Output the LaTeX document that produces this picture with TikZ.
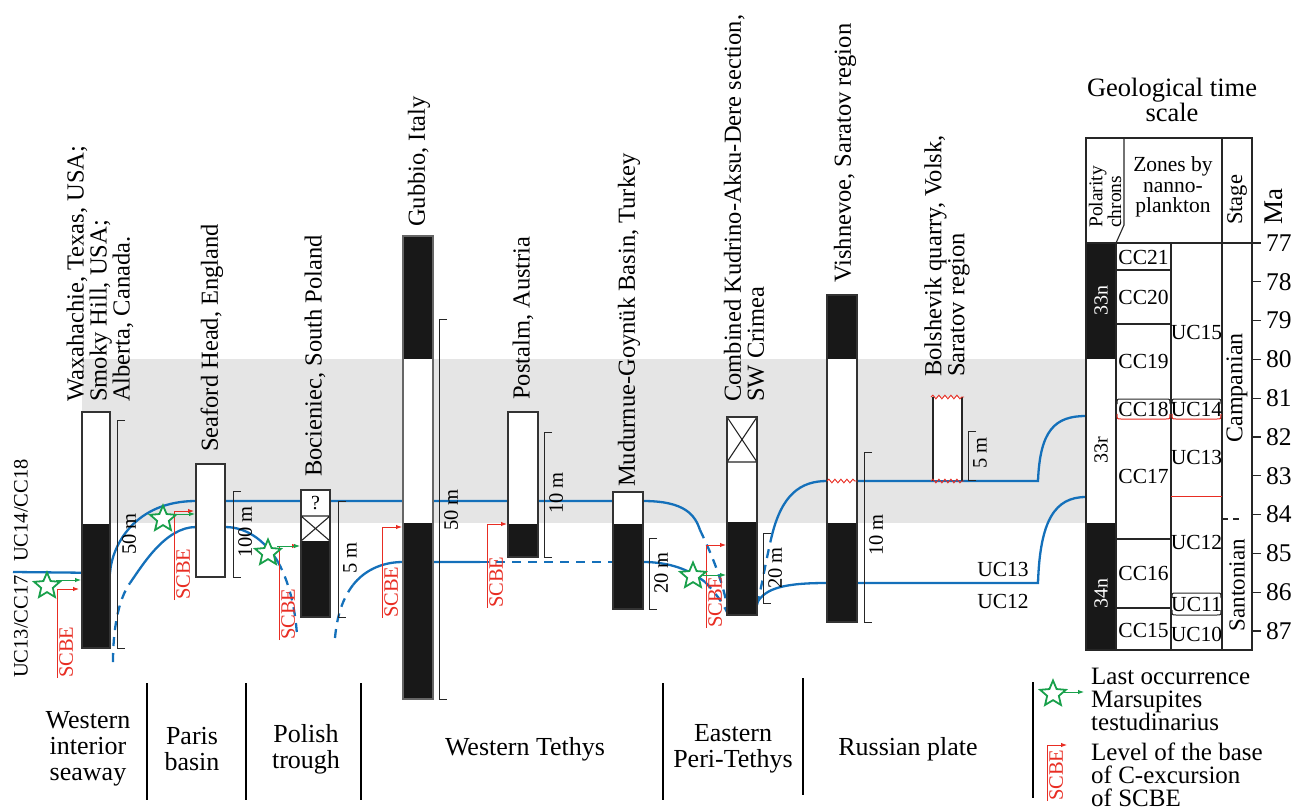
\documentclass[tikz,border=0pt]{standalone}
\usepackage{fontspec}
\setmainfont{Liberation Serif}
\usetikzlibrary{shapes.geometric,arrows.meta,decorations.pathmorphing}
\definecolor{cblue}{RGB}{20,112,186}
\definecolor{cred}{RGB}{232,45,35}
\definecolor{cgreen}{RGB}{25,160,75}
\definecolor{cgray}{RGB}{229,229,229}
\definecolor{cblk}{RGB}{24,24,24}
\newcommand{\fsz}[2]{\fontsize{#1}{#2}\selectfont}
% scale bar: name, x, ytop, ybot, label, ylabel
\newcommand{\sbar}[6]{%
  \draw[bar] (#2+8,#3) -- (#2,#3) -- (#2,#4) -- (#2+8,#4);
  \node[rotate=90,anchor=north,inner sep=0pt,font=\fsz{20.5}{20}] (#1) at (#2+5,#6) {#5};}
% SCBE marker: name, x, ytop, ybot, xend
\newcommand{\scbe}[5]{%
  \draw[rarr] (#2,#4) -- (#2,#3) -- (#5,#3);
  \node[rotate=90,anchor=north west,inner sep=0pt,text=cred,font=\fsz{20.5}{20}] (#1) at (#2+2,#4) {SCBE};}
\newcommand{\bracedn}[4]{\draw[#4,line width=1pt] (#1+1,#3+5) .. controls (#1+1,#3) .. (#1+5,#3) -- (#2-5,#3) .. controls (#2-1,#3) .. (#2-1,#3+5);}
\newcommand{\braceup}[4]{\draw[#4,line width=1pt] (#1+1,#3-5) .. controls (#1+1,#3) .. (#1+5,#3) -- (#2-5,#3) .. controls (#2-1,#3) .. (#2-1,#3-5);}
\begin{document}
\begin{tikzpicture}[x=1pt,y=-1pt,
  tsl/.style={draw=black!85,line width=1.1pt},
  corr/.style={draw=cblue,line width=2.3pt},
  corrd/.style={corr,dash pattern=on 9pt off 7pt},
  bar/.style={draw=black!85,line width=1pt},
  box/.style={draw=black!80,line width=1.2pt,inner sep=0pt,outer sep=0pt,anchor=north west},
  toplab/.style={rotate=90,anchor=west,inner sep=0pt,font=\fsz{24.5}{23}},
  botlab/.style={align=center,inner sep=0pt,font=\fsz{26}{26}},
  cell/.style={inner sep=0pt,font=\fsz{21.5}{21}},
  mstar/.style={star,star points=5,star point ratio=2.2,draw=cgreen,fill=white,line width=1.8pt,minimum size=27pt,inner sep=0pt},
  garr/.style={draw=cgreen,line width=1pt,-{Latex[length=6pt,width=4.5pt]}},
  rarr/.style={draw=cred,line width=1pt,-{Latex[length=6pt,width=4.5pt]}},
  wave/.style={draw=cred,line width=0.9pt,decorate,decoration={snake,segment length=6pt,amplitude=1.8pt}},
  sep/.style={draw=black,line width=2.6pt}
]
\useasboundingbox (0,0) rectangle (1299,811);
\fill[cgray] (82,359) rectangle (1086,523);

% ---------- correlation lines ----------
\draw[corr] (13,572) -- (110,573) .. controls (112,545) and (135,501) .. (196,501) -- (643,501) .. controls (685,501) and (695,515) .. (700,530);
\draw[corrd] (700,530) .. controls (712,555) and (722,580) .. (727,605);
\draw[corrd] (757,605) .. controls (762,585) and (766,560) .. (772,535);
\draw[corr] (772,535) .. controls (782,495) and (800,481) .. (827,481) -- (1038,481) .. controls (1040,430) and (1055,416) .. (1086,416);

\draw[corrd] (113,662) .. controls (113,630) and (118,600) .. (130,583);
\draw[corr] (130,583) .. controls (142,566) and (165,527) .. (196,527) -- (225,527) .. controls (250,527) and (268,545) .. (278,562);
\draw[corrd] (278,562) .. controls (288,580) and (295,605) .. (297,635);

\draw[corrd] (335,638) .. controls (337,615) and (343,598) .. (353,585);
\draw[corr] (353,585) .. controls (363,572) and (380,562) .. (403,562) -- (480,562);
\draw[corrd] (480,562) -- (613,562);
\draw[corr] (643,562) .. controls (670,562) and (690,570) .. (705,582);
\draw[corrd] (705,582) .. controls (715,592) and (722,602) .. (727,612);
\draw[corr] (757,603) .. controls (765,588) and (785,583) .. (827,583) -- (1038,583) .. controls (1040,520) and (1055,497) .. (1086,497);

% ---------- columns ----------
\fill[white] (82,412) rectangle (110,524);
\fill[cblk] (82,524) rectangle (110,648);
\node[box,minimum width=28pt,minimum height=236pt] (wax) at (82,412) {};

\fill[white] (196,464) rectangle (225,577);
\node[box,minimum width=29pt,minimum height=113pt] (sea) at (196,464) {};

\fill[white] (301,490) rectangle (330,541);
\fill[cblk] (301,541) rectangle (330,617);
\draw[tsl] (301,516) -- (330,516) (301,516) -- (330,541) (330,516) -- (301,541);
\node[box,minimum width=29pt,minimum height=127pt] (boc) at (301,490) {};
\node[cell,font=\fsz{20}{20}] (qm) at (315.5,503.5) {?};

\fill[cblk] (403,236) rectangle (433,359);
\fill[white] (403,359) rectangle (433,523);
\fill[cblk] (403,523) rectangle (433,699);
\node[box,draw=black!60,minimum width=30pt,minimum height=463pt] (gub) at (403,236) {};

\fill[white] (508,412) rectangle (538,524);
\fill[cblk] (508,524) rectangle (538,557);
\node[box,minimum width=30pt,minimum height=145pt] (pos) at (508,412) {};

\fill[white] (613,492) rectangle (643,524);
\fill[cblk] (613,524) rectangle (643,609);
\node[box,minimum width=30pt,minimum height=117pt] (mud) at (613,492) {};

\fill[white] (727,417) rectangle (757,522);
\fill[cblk] (727,522) rectangle (757,615);
\draw[tsl] (727,462) -- (757,462) (727,417) -- (757,462) (757,417) -- (727,462);
\node[box,minimum width=30pt,minimum height=198pt] (kud) at (727,417) {};

\fill[cblk] (827,295) rectangle (857,359);
\fill[white] (827,359) rectangle (857,523);
\fill[cblk] (827,523) rectangle (857,622);
\node[box,minimum width=30pt,minimum height=327pt] (vis) at (827,295) {};
\draw[wave] (827,481) -- (857,481);

\fill[white] (933,397) rectangle (962,480);
\draw[tsl] (933,397) -- (933,481) (962,397) -- (962,481);
\coordinate (bol) at (947.5,438);
\draw[wave] (931,397) -- (964,397);
\draw[wave] (931,481) -- (964,481);

% ---------- scale bars ----------
\sbar{s1}{117}{420}{648}{50 m}{534}
\sbar{s2}{233}{491}{577}{100 m}{532}
\sbar{s3}{338}{501}{617}{5 m}{558}
\sbar{s4}{439}{319}{699}{50 m}{510}
\sbar{s5}{544}{432}{557}{10 m}{493}
\sbar{s6}{649}{538}{609}{20 m}{573}
\sbar{s7}{763}{533}{603}{20 m}{568}
\sbar{s8}{864}{452}{622}{10 m}{535}
\sbar{s9}{968}{431}{480}{5 m}{453}

% ---------- markers ----------
\scbe{sc1}{57}{589}{678}{79}
\node[mstar] (st1) at (47,586) {};
\draw[garr] (56,580) -- (81,580);

\scbe{sc2}{174}{511}{600}{194}
\node[mstar] (st2) at (163,519) {};
\draw[garr] (172,514) -- (195,514);

\scbe{sc3}{279}{546}{640}{298}
\node[mstar] (st3) at (268,553) {};
\draw[garr] (277,546) -- (300,546);

\scbe{sc4}{382}{527}{618}{402}
\scbe{sc5}{487}{524}{608}{507}

\scbe{sc6}{706}{545}{628}{726}
\node[mstar] (st4) at (693,576) {};
\draw[garr] (703,575) -- (726,575);

% ---------- side labels ----------
\node[rotate=90,anchor=west,inner sep=0pt,font=\fsz{20.5}{20}] (uc14) at (21,562) {UC14/CC18};
\node[rotate=90,anchor=west,inner sep=0pt,font=\fsz{20.5}{20}] (uc13) at (21,678) {UC13/CC17};
\node[cell] (uc13r) at (1003,569) {UC13};
\node[cell] (uc12r) at (1003,601) {UC12};

% ---------- top labels ----------
\node[toplab,align=left] (lwax) at (100,402) {Waxahachie, Texas, USA;\\Smoky Hill, USA;\\Alberta, Canada.};
\node[toplab] (lsea) at (212,452) {Seaford Head, England};
\node[toplab] (lboc) at (315,477) {Bocieniec, South Poland};
\node[toplab] (lgub) at (419,227) {Gubbio, Italy};
\node[toplab] (lpos) at (523,400) {Postalm, Austria};
\node[toplab] (lmud) at (629,487) {Mudurnue-Goynük Basin, Turkey};
\node[toplab,align=left] (lkud) at (744,402) {Combined Kudrino-Aksu-Dere section,\\SW Crimea};
\node[toplab] (lvis) at (845,283) {Vishnevoe, Saratov region};
\node[toplab,align=left] (lbol) at (947,377) {Bolshevik quarry, Volsk,\\Saratov region};

% ---------- time scale ----------
\node[align=center,anchor=north,inner sep=0pt,font=\fsz{26.5}{25}] (gts) at (1172,78) {Geological time\\scale};
\fill[cblk] (1086,243) rectangle (1116,359);
\fill[cblk] (1086,523) rectangle (1116,650);
\draw[tsl] (1086,138) rectangle (1252,650);
\draw[tsl] (1086,243) -- (1252,243);
\draw[tsl] (1124,138) -- (1124,225) -- (1116,243);
\draw[tsl] (1116,243) -- (1116,650);
\draw[tsl] (1171,243) -- (1171,650);
\draw[tsl] (1222,138) -- (1222,650);
\draw[tsl] (1116,270) -- (1171,270);
\draw[tsl] (1116,324) -- (1171,324);
\draw[tsl] (1116,539) -- (1171,539);
\draw[tsl] (1116,608) -- (1171,608);
\bracedn{1116}{1171}{399}{black!85}
\bracedn{1171}{1222}{399}{black!85}
\braceup{1116}{1171}{419}{cred}
\braceup{1171}{1222}{419}{cred}
\draw[cred,line width=1pt] (1171,496) -- (1222,496);
\bracedn{1171}{1222}{593}{black!85}
\braceup{1171}{1222}{615}{black!85}
\draw[tsl,dash pattern=on 6pt off 5pt] (1222,519) -- (1240,519);

\node[rotate=90,anchor=west,align=left,inner sep=0pt,font=\fsz{19.5}{17}] (pol) at (1105,228) {Polarity\\chrons};
\node[align=center,inner sep=0pt,font=\fsz{21.5}{20.5}] (zon) at (1173,187) {Zones by\\nanno-\\plankton};
\node[rotate=90,inner sep=0pt,font=\fsz{22.5}{22}] (stg) at (1237,200) {Stage};
\node[rotate=90,inner sep=0pt,font=\fsz{27}{27}] (mahd) at (1274,207) {Ma};
\node[rotate=90,inner sep=0pt,font=\fsz{24}{24}] (camp) at (1237,388) {Campanian};
\node[rotate=90,inner sep=0pt,font=\fsz{23}{23}] (sant) at (1237,585) {Santonian};

\node[rotate=90,inner sep=0pt,text=white,font=\fsz{20}{20}] (c33n) at (1101,300) {33n};
\node[rotate=90,inner sep=0pt,font=\fsz{20}{20}] (c33r) at (1101,450) {33r};
\node[rotate=90,inner sep=0pt,text=white,font=\fsz{20}{20}] (c34n) at (1101,593) {34n};

\node[cell] (cc21) at (1143.5,257) {CC21};
\node[cell] (cc20) at (1143.5,297) {CC20};
\node[cell] (cc19) at (1143.5,361) {CC19};
\node[cell] (cc18) at (1143.5,409) {CC18};
\node[cell] (cc17) at (1143.5,476) {CC17};
\node[cell] (cc16) at (1143.5,573) {CC16};
\node[cell] (cc15) at (1143.5,630) {CC15};
\node[cell] (u15) at (1196.5,332) {UC15};
\node[cell] (u14) at (1196.5,409) {UC14};
\node[cell] (u13) at (1196.5,457) {UC13};
\node[cell] (u12) at (1196.5,542) {UC12};
\node[cell] (u11) at (1196.5,604) {UC11};
\node[cell] (u10) at (1196.5,634) {UC10};

\foreach \m in {77,...,87} {
  \draw[tsl] (1252,{243+38.8*(\m-77)}) -- (1261,{243+38.8*(\m-77)});
  \node[anchor=west,inner sep=0pt,font=\fsz{25.5}{25}] (ma\m) at (1266,{243+38.8*(\m-77)}) {\m};
}

% ---------- bottom ----------
\draw[sep] (147,683) -- (147,800);
\draw[sep] (246,683) -- (246,800);
\draw[sep] (361,683) -- (361,800);
\draw[sep] (663,683) -- (663,800);
\draw[sep] (803,678) -- (803,795);
\node[botlab] (b1) at (88,749) {Western\\interior\\seaway};
\node[botlab] (b2) at (192,749) {Paris\\basin};
\node[botlab] (b3) at (306,749) {Polish\\trough};
\node[botlab] (b4) at (525,749) {Western Tethys};
\node[botlab] (b5) at (733,749) {Eastern\\Peri-Tethys};
\node[botlab] (b6) at (908,749) {Russian plate};

% ---------- legend ----------
\draw[sep] (1033,682) -- (1033,798);
\node[mstar] (lst) at (1053,694) {};
\draw[garr] (1063,692) -- (1084,692);
\node[anchor=north west,align=left,inner sep=0pt,font=\fsz{25}{23}] (leg1) at (1091,668) {Last occurrence\\Marsupites\\testudinarius};
\scbe{lsc}{1047}{745}{801}{1067}
\node[anchor=north west,align=left,inner sep=0pt,font=\fsz{25}{23}] (leg2) at (1091,743) {Level of the base\\of C-excursion\\of SCBE};
\end{tikzpicture}
\end{document}
